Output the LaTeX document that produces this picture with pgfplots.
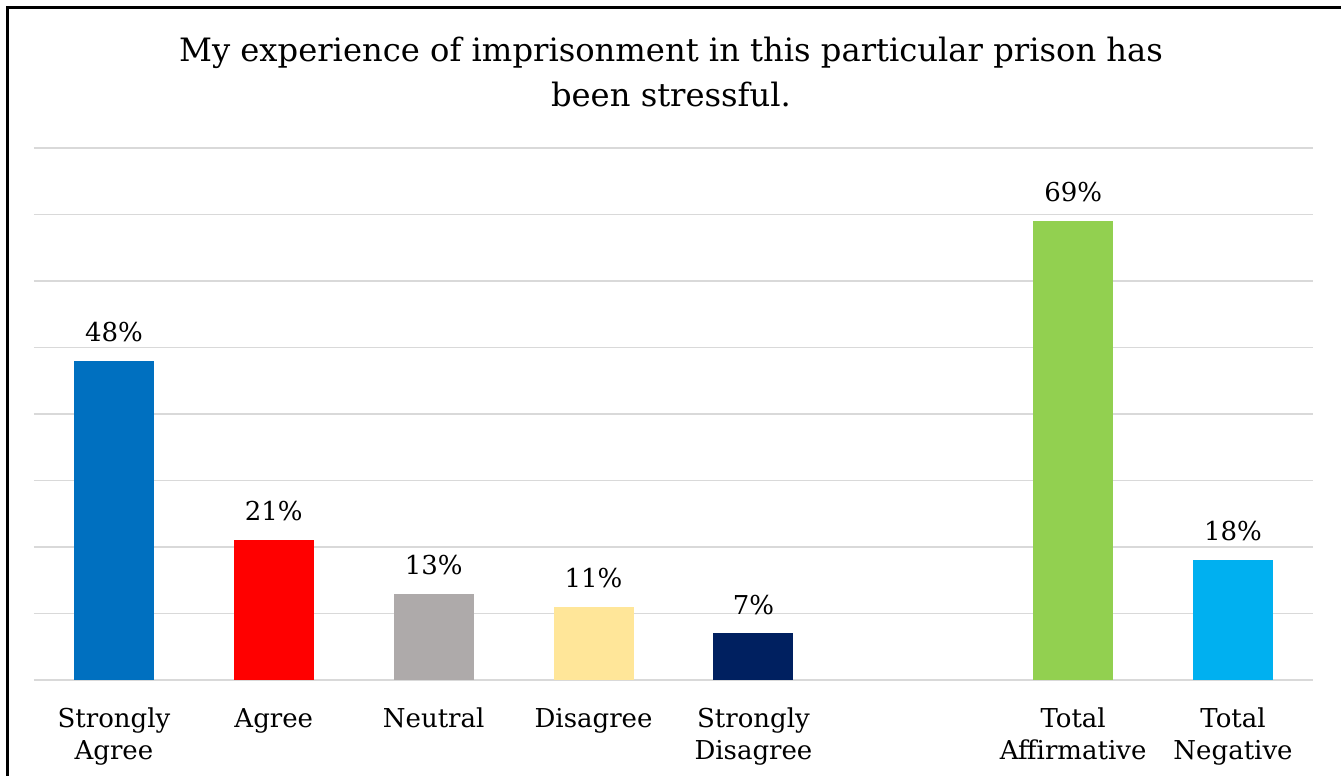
\documentclass[border=0pt]{standalone}
\usepackage{pgfplots}
\pgfplotsset{compat=1.18}
\usepackage{fontspec}
\setmainfont{DejaVu Serif}

\definecolor{sagree}{HTML}{0070C0}
\definecolor{agree}{HTML}{FF0000}
\definecolor{neutral}{HTML}{AEAAAA}
\definecolor{disagree}{HTML}{FFE699}
\definecolor{sdisagree}{HTML}{002060}
\definecolor{taff}{HTML}{92D050}
\definecolor{tneg}{HTML}{00B0F0}
\definecolor{gridc}{HTML}{D9D9D9}

\begin{document}
\begin{tikzpicture}
\useasboundingbox (0,0) rectangle (670.5pt,388pt);
% frame (right and bottom edges fall outside the picture)
\draw[line width=1.5pt] (3.5pt,-10pt) -- (3.5pt,384pt) -- (690pt,384pt);
% title
\node[align=center, font=\fontsize{16.1}{22.5}\selectfont, anchor=base] at (335.5pt,334.5pt)
  {My experience of imprisonment in this particular prison has\\been stressful.};
\begin{axis}[
  at={(17pt,48pt)}, anchor=south west,
  scale only axis, width=639.5pt, height=266pt,
  xmin=-0.5, xmax=7.5, ymin=0, ymax=80,
  ybar, bar width=40pt, bar shift=0pt,
  axis line style={draw=none},
  ytick={0,10,...,80}, yticklabels={},
  ymajorgrids, major grid style={gridc, line width=0.9pt},
  major tick length=0pt,
  xtick={0,1,2,3,4,6,7},
  xticklabels={Strongly\\Agree, Agree, Neutral, Disagree, Strongly\\Disagree, Total\\Affirmative, Total\\Negative},
  xticklabel style={align=center, font=\fontsize{13}{16}\selectfont, anchor=north, yshift=-10.5pt},
  nodes near coords={\pgfmathprintnumber[assume math mode=true]{\pgfplotspointmeta}\%},
  every node near coord/.append style={font=\fontsize{13}{16}\selectfont, black, yshift=6pt},
  clip=false,
]
\addplot[fill=sagree, draw=none] coordinates {(0,48)};
\addplot[fill=agree, draw=none] coordinates {(1,21)};
\addplot[fill=neutral, draw=none] coordinates {(2,13)};
\addplot[fill=disagree, draw=none] coordinates {(3,11)};
\addplot[fill=sdisagree, draw=none] coordinates {(4,7)};
\addplot[fill=taff, draw=none] coordinates {(6,69)};
\addplot[fill=tneg, draw=none] coordinates {(7,18)};
\end{axis}
\end{tikzpicture}
\end{document}
